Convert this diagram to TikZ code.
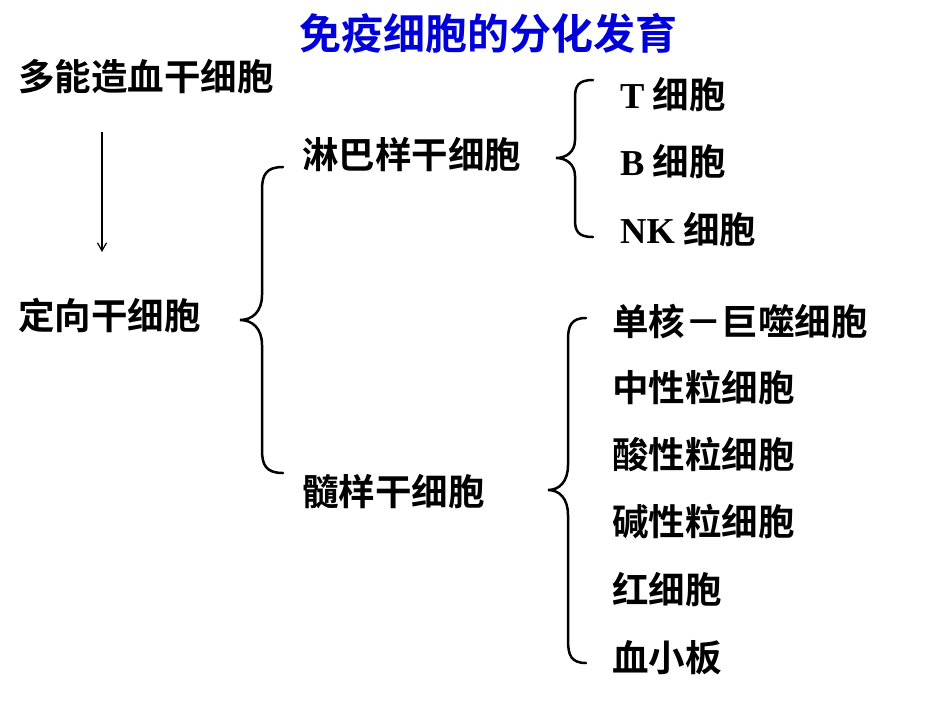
\documentclass[tikz,border=0pt]{standalone}
\usepackage{fontspec}
\setmainfont{Noto Sans CJK SC}[BoldFont={Noto Sans CJK SC Bold}]
\newfontfamily\latinf{Liberation Serif}
\usetikzlibrary{arrows.meta}
\begin{document}
\begin{tikzpicture}[x=1pt,y=-1pt,
  lbl/.style={anchor=west,inner sep=0pt,font=\fontsize{36.5}{40}\selectfont\bfseries},
  brc/.style={line width=2.5pt,line cap=round}]
\useasboundingbox[fill=white] (0,0) rectangle (950,713);
\node[inner sep=0pt,text=blue!85!black,font=\fontsize{42}{46}\selectfont\bfseries] (title) at (488,33) {免疫细胞的分化发育};
\node[lbl] (pl) at (18,77) {多能造血干细胞};
\node[lbl] (dx) at (18,315) {定向干细胞};
\node[lbl] (lb) at (302,155) {淋巴样干细胞};
\node[lbl] (sy) at (302,492) {髓样干细胞};
\node[lbl] (t) at (620,95) {{\latinf T} 细胞};
\node[lbl] (b) at (620,162) {{\latinf B} 细胞};
\node[lbl] (nk) at (620,230) {{\latinf NK} 细胞};
\node[lbl] (m1) at (612,322) {单核－巨噬细胞};
\node[lbl] (m2) at (612,388) {中性粒细胞};
\node[lbl] (m3) at (612,455) {酸性粒细胞};
\node[lbl] (m4) at (612,522) {碱性粒细胞};
\node[lbl] (m5) at (612,590) {红细胞};
\node[lbl] (m6) at (612,658) {血小板};
\coordinate (a1) at (102,132);
\coordinate (a2) at (102,252);
\draw[line width=1.2pt,-{Straight Barb[length=8pt,width=9pt]}] (a1) -- (a2);
% brace 1
\draw[brc] (283,167) .. controls (266,167) and (262,175) .. (262,190) -- (262,295)
  .. controls (262,312) and (252,320) .. (240,320) .. controls (252,320) and (262,328) .. (262,345)
  -- (262,450) .. controls (262,465) and (266,473) .. (283,473);
% brace 2
\draw[brc] (593,80) .. controls (578,80) and (575,86) .. (575,98) -- (575,140)
  .. controls (575,152) and (566,158) .. (556,158) .. controls (566,158) and (575,164) .. (575,176)
  -- (575,220) .. controls (575,231) and (578,237) .. (593,237);
% brace 3
\draw[brc] (586,318) .. controls (571,318) and (568,326) .. (568,340) -- (568,465)
  .. controls (568,482) and (559,490) .. (548,490) .. controls (559,490) and (568,498) .. (568,515)
  -- (568,640) .. controls (568,655) and (571,663) .. (586,663);
\end{tikzpicture}
\end{document}
